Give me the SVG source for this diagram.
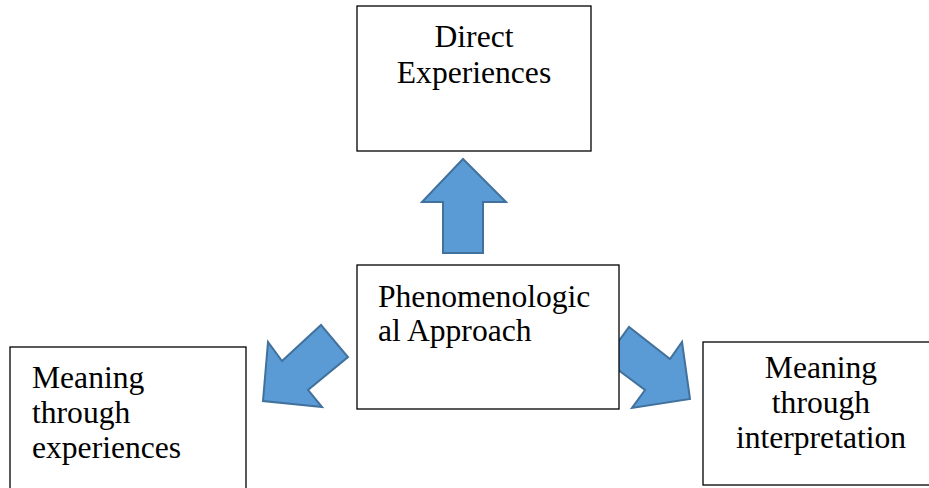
<svg xmlns="http://www.w3.org/2000/svg" width="929" height="488" viewBox="0 0 929 488">
<style>
.box{fill:#fff;stroke:#000;stroke-width:1.3}
.t{font-family:"Liberation Serif","Times New Roman",serif;font-size:31.6px;fill:#000}
.c{text-anchor:middle}
.arr{fill:#5B9BD5;stroke:#41719C;stroke-width:2;stroke-linejoin:miter}
</style>
<rect width="929" height="488" fill="#fff"/>
<g id="connectors">
<polygon class="arr" points="463,159 506,202 483,202 483,253 443,253 443,202 422,202"/>
<polygon class="arr" points="263,401 268,342 282,361 321,325 348,357 308,390 322,407"/>
<polygon class="arr" points="690,399 682,342 670,359 629,327 605,360 645,390 632,408"/>
</g>
<g id="direct">
<rect class="box" x="357" y="6" width="234" height="145"/>
<text class="t c" x="474" y="47">Direct</text>
<text class="t c" x="474" y="83">Experiences</text>
</g>
<g id="approach">
<rect class="box" x="357" y="265" width="262" height="144"/>
<text class="t" x="378" y="307">Phenomenologic</text>
<text class="t" x="378" y="341">al Approach</text>
</g>
<g id="meaning-experiences">
<rect class="box" x="10" y="347" width="236" height="150"/>
<text class="t" x="32" y="388">Meaning</text>
<text class="t" x="32" y="423">through</text>
<text class="t" x="32" y="458">experiences</text>
</g>
<g id="meaning-interpretation">
<rect class="box" x="703" y="342" width="236" height="143"/>
<text class="t c" x="821" y="378">Meaning</text>
<text class="t c" x="821" y="413">through</text>
<text class="t c" x="821" y="448">interpretation</text>
</g>
</svg>
